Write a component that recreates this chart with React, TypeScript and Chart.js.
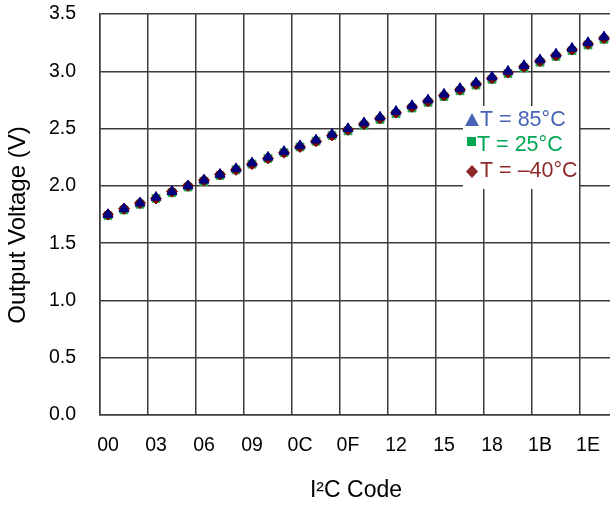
import React, { useEffect, useRef } from 'react';
import { Chart, registerables } from 'chart.js';

Chart.register(...registerables);

// ---- data ----
const codes = [
  '00', '01', '02', '03', '04', '05', '06', '07', '08', '09', '0A', '0B', '0C', '0D', '0E', '0F',
  '10', '11', '12', '13', '14', '15', '16', '17', '18', '19', '1A', '1B', '1C', '1D', '1E', '1F',
];
const v85 = [
  1.75, 1.80, 1.85, 1.90, 1.95, 2.00, 2.05, 2.10, 2.15, 2.20, 2.25, 2.30, 2.35, 2.40, 2.45, 2.50,
  2.55, 2.60, 2.65, 2.70, 2.75, 2.80, 2.85, 2.90, 2.95, 3.00, 3.05, 3.10, 3.15, 3.20, 3.25, 3.30,
];
const v25 = [
  1.74, 1.79, 1.84, 1.89, 1.94, 1.99, 2.04, 2.09, 2.14, 2.19, 2.24, 2.29, 2.34, 2.39, 2.44, 2.48,
  2.53, 2.58, 2.63, 2.68, 2.73, 2.78, 2.83, 2.88, 2.93, 2.98, 3.03, 3.08, 3.13, 3.18, 3.23, 3.28,
];
const vm40 = [
  1.75, 1.80, 1.85, 1.89, 1.95, 2.00, 2.05, 2.10, 2.14, 2.19, 2.24, 2.29, 2.34, 2.39, 2.44, 2.49,
  2.54, 2.59, 2.64, 2.69, 2.74, 2.79, 2.84, 2.89, 2.94, 2.99, 3.04, 3.09, 3.14, 3.19, 3.24, 3.29,
];
const seriesLabels = ['T = 85°C', 'T = 25°C', 'T = –40°C'];
const yMin = 0;
const yMax = 3.5;
const yStep = 0.5;
const labelEvery = 3;
const xTitle = 'I²C Code';
const yTitle = 'Output Voltage (V)';

// ---- styles ----
const FONT = '"Liberation Sans", Arial, Helvetica, sans-serif';
const GRID = '#3c3c3c';
const MARK85 = '#000080';
const MARK25 = '#008a2e';
const MARK40 = '#800000';
const LEG85 = '#4763b4';
const LEG25 = '#00a651';
const LEG40 = '#8c2a2a';

const yTitlePlugin = {
  id: 'yTitle',
  afterDraw(chart: any) {
    const ctx = chart.ctx;
    ctx.save();
    ctx.translate(18, 225);
    ctx.rotate(-Math.PI / 2);
    ctx.font = `24px ${FONT}`;
    ctx.fillStyle = '#000';
    ctx.textAlign = 'center';
    ctx.textBaseline = 'middle';
    ctx.fillText(yTitle, 0, 0);
    ctx.restore();
  },
};

const legendPlugin = {
  id: 'boxLegend',
  beforeDatasetsDraw(chart: any) {
    const ctx = chart.ctx;
    ctx.save();
    ctx.fillStyle = '#ffffff';
    ctx.fillRect(463, 106, 116, 83);
    ctx.font = `21.5px ${FONT}`;
    ctx.textAlign = 'left';
    ctx.textBaseline = 'alphabetic';

    // row 1: triangle
    ctx.fillStyle = LEG85;
    ctx.beginPath();
    ctx.moveTo(472, 113);
    ctx.lineTo(479, 126);
    ctx.lineTo(465, 126);
    ctx.closePath();
    ctx.fill();
    ctx.fillText(seriesLabels[0], 480, 126);

    // row 2: square
    ctx.fillStyle = LEG25;
    ctx.fillRect(467, 137, 9, 9);
    ctx.fillText(seriesLabels[1], 477, 150.5);

    // row 3: diamond
    ctx.fillStyle = LEG40;
    ctx.beginPath();
    ctx.moveTo(472, 165);
    ctx.lineTo(478, 171.5);
    ctx.lineTo(472, 178);
    ctx.lineTo(466, 171.5);
    ctx.closePath();
    ctx.fill();
    ctx.fillText(seriesLabels[2], 480, 176.5);
    ctx.restore();
  },
};

export default function App() {
  const ref = useRef<HTMLCanvasElement>(null);

  useEffect(() => {
    if (!ref.current) return;
    const chart = new Chart(ref.current, {
      type: 'line',
      data: {
        labels: codes,
        datasets: [
          {
            label: seriesLabels[0],
            data: v85,
            showLine: false,
            pointStyle: 'triangle',
            pointRadius: 5.8,
            backgroundColor: MARK85,
            borderColor: MARK85,
            borderWidth: 1,
          },
          {
            label: seriesLabels[2],
            data: vm40,
            showLine: false,
            pointStyle: 'rectRot',
            pointRadius: 5.5,
            backgroundColor: MARK40,
            borderColor: MARK40,
            borderWidth: 1,
          },
          {
            label: seriesLabels[1],
            data: v25,
            showLine: false,
            pointStyle: 'rect',
            pointRadius: 5.6,
            backgroundColor: MARK25,
            borderColor: '#3cb060',
            borderWidth: 1,
          },
        ],
      },
      options: {
        responsive: false,
        devicePixelRatio: 1,
        animation: false,
        events: [],
        layout: { autoPadding: false, padding: { top: 14, left: 0, right: 0, bottom: 0 } },
        plugins: {
          legend: { display: false },
          tooltip: { enabled: false },
          title: { display: false },
        },
        scales: {
          x: {
            type: 'category',
            offset: true,
            grid: {
              offset: true,
              drawTicks: true,
              tickLength: 19,
              tickColor: 'transparent',
              lineWidth: 1.5,
              color: (c: any) => (c.index !== undefined && c.index % labelEvery === 0 ? GRID : 'transparent'),
            },
            border: { display: true, color: GRID, width: 1.5 },
            ticks: {
              autoSkip: false,
              maxRotation: 0,
              minRotation: 0,
              padding: 0,
              color: '#000',
              font: { family: FONT, size: 19.5 },
              callback: (_v: any, i: number) => (i % labelEvery === 0 ? codes[i] : ''),
            },
            title: {
              display: true,
              text: xTitle,
              color: '#000',
              font: { family: FONT, size: 23 },
              padding: { top: 0, bottom: 1 },
            },
            afterFit: (s: any) => {
              s.height = 90;
              s.paddingLeft = 0;
              s.paddingRight = 0;
            },
          },
          y: {
            min: yMin,
            max: yMax,
            grid: {
              drawTicks: true,
              tickLength: 24,
              tickColor: 'transparent',
              lineWidth: 1.5,
              color: GRID,
            },
            border: { display: true, color: GRID, width: 1.5 },
            ticks: {
              stepSize: yStep,
              padding: 0,
              color: '#000',
              font: { family: FONT, size: 19.5 },
              callback: (v: any) => Number(v).toFixed(1),
            },
            afterFit: (s: any) => {
              s.width = 100;
            },
          },
        },
      },
      plugins: [legendPlugin, yTitlePlugin],
    } as any);
    return () => chart.destroy();
  }, []);

  return (
    <div
      style={{
        position: 'absolute',
        left: 0,
        top: 0,
        width: 610,
        height: 505,
        overflow: 'hidden',
        background: '#fff',
      }}
    >
      <canvas ref={ref} width={612} height={505} style={{ display: 'block', width: 612, height: 505 }} />
    </div>
  );
}
